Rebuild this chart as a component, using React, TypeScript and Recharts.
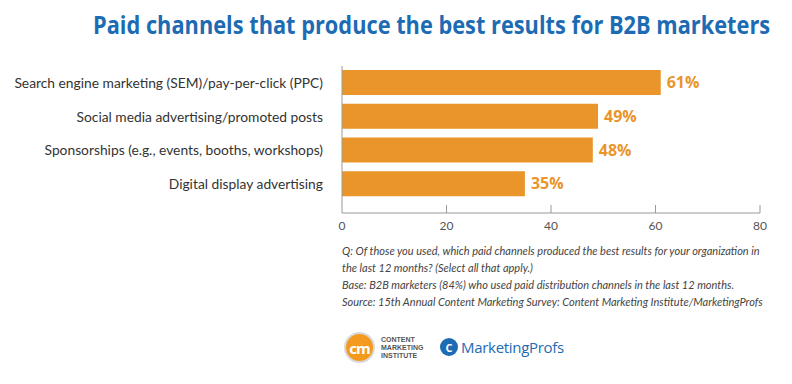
import { useLayoutEffect, useRef, useState } from 'react';
import { BarChart, Bar, XAxis, YAxis, LabelList } from 'recharts';

const channels = [
  'Search engine marketing (SEM)/pay-per-click (PPC)',
  'Social media advertising/promoted posts',
  'Sponsorships (e.g., events, booths, workshops)',
  'Digital display advertising',
];
const shares = [61, 49, 48, 35];
const xTicks = [0, 20, 40, 60, 80];

const notes = [
  'Q: Of those you used, which paid channels produced the best results for your organization in',
  'the last 12 months? (Select all that apply.)',
  'Base: B2B marketers (84%) who used paid distribution channels in the last 12 months.',
  'Source: 15th Annual Content Marketing Survey: Content Marketing Institute/MarketingProfs',
];

const TITLE = 'Paid channels that produce the best results for B2B marketers';

const data = channels.map((name, i) => ({ name, value: shares[i] }));

const ORANGE = '#e9952a';
const BLUE = '#1d6bb3';

// ticks sit on the inside of the axis, labels below it
function XTick(props: any) {
  const { x, y, payload } = props;
  return (
    <g>
      {payload.value !== 0 && (
        <line x1={x} x2={x} y1={y - 8} y2={y} stroke="#999" strokeWidth={1} />
      )}
      <text x={x} y={y + 17} textAnchor="middle" fontSize={12} fill="#555" fontFamily="Lato, sans-serif">
        {payload.value}
      </text>
    </g>
  );
}

// title is a condensed face in the original; squeeze Open Sans to the same width
function Title() {
  const ref = useRef<SVGTextElement>(null);
  const [sx, setSx] = useState(0.8);
  useLayoutEffect(() => {
    if (ref.current) {
      const w = ref.current.getComputedTextLength();
      if (w > 0) setSx(677 / w);
    }
  }, []);
  return (
    <svg width={792} height={56} style={{ position: 'absolute', top: 0, left: 0 }}>
      <g transform={`translate(93,0) scale(${sx},1)`}>
        <text ref={ref} x={0} y={34} fontFamily='"Open Sans", sans-serif' fontWeight={700} fontSize={25} fill={BLUE}>
          {TITLE}
        </text>
      </g>
    </svg>
  );
}

export default function App() {
  return (
    <div style={{ position: 'absolute', left: 0, top: 0, width: 792, height: 384, background: '#fff', overflow: 'hidden' }}>
      <Title />

      <div style={{ position: 'absolute', top: 0, left: 0 }}>
        <BarChart
          width={792}
          height={240}
          data={data}
          layout="vertical"
          margin={{ top: 66, right: 32, bottom: 0, left: 0 }}
        >
          <XAxis
            type="number"
            domain={[0, 80]}
            ticks={xTicks}
            axisLine={{ stroke: '#999' }}
            tickLine={false}
            tickSize={0}
            tickMargin={0}
            height={27}
            tick={<XTick />}
          />
          <YAxis
            type="category"
            dataKey="name"
            width={342}
            axisLine={{ stroke: '#999' }}
            tickLine={false}
            tickMargin={13}
            padding={{ top: 0, bottom: 12 }}
            tick={{ fontSize: 13.8, fill: '#333', fontFamily: 'Lato, sans-serif' }}
            interval={0}
          />
          <Bar dataKey="value" fill={ORANGE} barSize={25} isAnimationActive={false}>
            <LabelList
              dataKey="value"
              position="right"
              offset={6}
              formatter={(v: any) => `${v}%`}
              style={{ fill: ORANGE, fontWeight: 700, fontSize: 16, fontFamily: '"Open Sans", sans-serif' }}
            />
          </Bar>
        </BarChart>
      </div>

      <div
        style={{
          position: 'absolute', top: 242, left: 342, fontFamily: 'Lato, sans-serif',
          fontStyle: 'italic', fontSize: 11, lineHeight: '17px', color: '#444', whiteSpace: 'nowrap',
        }}
      >
        {notes.map((n) => (
          <div key={n}>{n}</div>
        ))}
      </div>

      {/* logos */}
      <div style={{ position: 'absolute', top: 332, left: 344, display: 'flex', alignItems: 'center' }}>
        <div
          style={{
            width: 27, height: 27, borderRadius: '50%', background: '#f39a1f', border: '2px solid #d9d9d9',
            color: '#fff', fontFamily: '"Open Sans", sans-serif', fontWeight: 700, fontSize: 15,
            display: 'flex', alignItems: 'center', justifyContent: 'center', letterSpacing: -1,
          }}
        >
          cm
        </div>
        <div
          style={{
            marginLeft: 6, fontFamily: '"Liberation Sans", sans-serif', fontWeight: 700, fontSize: 7,
            lineHeight: '8px', color: '#555',
          }}
        >
          <div>CONTENT</div>
          <div>MARKETING</div>
          <div>INSTITUTE</div>
        </div>
      </div>
      <div style={{ position: 'absolute', top: 337, left: 440, display: 'flex', alignItems: 'center' }}>
        <div
          style={{
            width: 18, height: 18, borderRadius: '50%', background: BLUE, color: '#fff',
            fontFamily: '"Open Sans", sans-serif', fontWeight: 700, fontSize: 11,
            display: 'flex', alignItems: 'center', justifyContent: 'center',
          }}
        >
          C
        </div>
        <div style={{ marginLeft: 3, fontFamily: '"Open Sans", sans-serif', fontSize: 15, color: BLUE, letterSpacing: -0.3 }}>
          MarketingProfs
        </div>
      </div>
    </div>
  );
}
